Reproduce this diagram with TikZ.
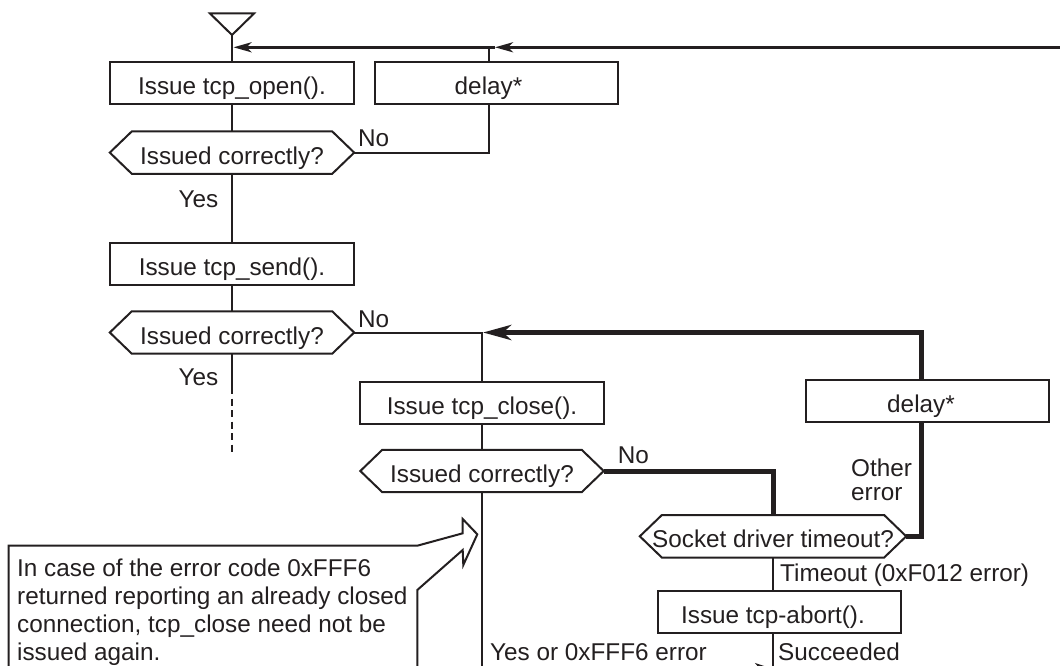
\documentclass[tikz,border=0pt]{standalone}
\usepackage{fontspec}
\setmainfont{Liberation Sans}
\usetikzlibrary{arrows.meta,calc}
\definecolor{ink}{HTML}{231F20}

% text set slightly off the centre of its box (labels follow the flow line, not the box)
\newcommand\shiftedtext[2]{\hspace*{-#1}#2\hspace*{#1}}
% pointed decision outline around a named node
\newcommand\hexoutline[1]{%
  \draw[thin line, line join=miter] (#1.west) -- ([xshift=22pt]#1.north west)
    -- ([xshift=-22pt]#1.north east) -- (#1.east)
    -- ([xshift=-22pt]#1.south east) -- ([xshift=22pt]#1.south west) -- cycle;}

\begin{document}
\begin{tikzpicture}[x=1pt,y=-1pt,
  every node/.style={font=\fontsize{24.3pt}{29pt}\selectfont, text=ink, inner sep=0pt},
  thin line/.style={draw=ink, line width=2pt},
  heavy/.style={draw=ink, line width=5pt, line join=miter},
  topline/.style={draw=ink, line width=3pt},
  stepbox/.style={draw=ink, line width=2pt, minimum width=243.5pt, minimum height=42pt,
                  text height=23pt, text depth=0pt},
  decision/.style={minimum width=#1, minimum height=42pt, text height=23pt, text depth=0pt},
  tag/.style={anchor=base west},
  smalltip/.style={-{Stealth[length=18pt,width=10pt,inset=5pt]}},
  bigtip/.style={-{Stealth[length=28pt,width=15pt,inset=8pt]}},
]
\useasboundingbox (0,0) rectangle (1060,666);

% ---- start marker and re-entry line
\draw[thin line, line join=miter] (210,13.5) -- (254,13.5) -- (232,35) -- cycle;
\coordinate (apex) at (232,35);
\coordinate (entry) at (1062,47.3);
\coordinate (jA) at (232,47.3);
\coordinate (jD) at (488.5,47.3);

% ---- open / send column
\node[stepbox] (open) at (232,83.2) {Issue tcp\_open().};
\node[stepbox] (delayA) at (496.3,83.2) {\shiftedtext{7.8pt}{delay*}};
\node[decision=244pt] (decA) at (232,152.6) {Issued correctly?};
\node[stepbox] (send) at (232,263.5) {Issue tcp\_send().};
\node[decision=244pt] (decB) at (232,332.5) {Issued correctly?};
\hexoutline{decA}
\hexoutline{decB}

% ---- close column
\coordinate (jB) at (481.5,332.5);
\node[stepbox] (close) at (482,402.5) {Issue tcp\_close().};
\node[decision=243pt] (decC) at (482,471) {Issued correctly?};
\hexoutline{decC}
\coordinate (exitB) at (481.5,680);

% ---- error handling
\coordinate (colC) at (773,0);
\coordinate (colD) at (921,332.5);
\node[decision=266pt] (sock) at (773,536.3) {Socket driver timeout?};
\hexoutline{sock}
\node[stepbox] (abort) at (779.5,612.3) {\shiftedtext{6.5pt}{Issue tcp-abort().}};
\node[stepbox] (delayB) at (927.6,400.8) {\shiftedtext{6.6pt}{delay*}};

% ---- connectors, main column
\draw[topline, smalltip] (entry) -- ([xshift=6.5pt]jD);
\draw[topline, smalltip] ([xshift=6.5pt]jD) -- ([xshift=1.5pt]jA);
\draw[thin line] (apex) -- (open.north);
\draw[thin line] (open.south) -- (decA.north);
\draw[thin line] (decA.south) -- (send.north);
\draw[thin line] (send.south) -- (decB.north);
\draw[thin line] (decB.south) -- ++(0,33.4) coordinate (dashstart);
\draw[thin line, dash pattern=on 7pt off 4.5pt] (dashstart) -- ++(0,67.3);

% retry after delay
\draw[thin line] (decA.east) -| (jD |- delayA.south);
\draw[thin line] (jD |- delayA.north) -- (jD);

% send failed: close the connection
\draw[thin line] (decB.east) -- (jB) -- (jB |- close.north);
\draw[thin line] (jB |- close.south) -- (jB |- decC.north);
\draw[thin line] (jB |- decC.south) -- (exitB);

% close failed
\draw[heavy] (decC.east) -| (sock.north);
\draw[heavy] (sock.east) -| (colD |- delayB.south);
\draw[heavy, bigtip] (colD |- delayB.north) |- ([xshift=1.5pt]jB);

% timeout: abort
\draw[thin line] (colC |- sock.south) -- (colC |- abort.north);
\draw[thin line] (colC |- abort.south) -- (colC |- exitB);
\coordinate (yesend) at (481.5,669);
\draw[thin line, -{Stealth[length=18pt,width=12pt,inset=5pt]}] (yesend) -- (yesend -| colC);

% ---- branch labels
\node[tag] (noA) at (358,146.7) {No};
\node[tag] (yesA) at (178.5,207) {Yes};
\node[tag] (noB) at (358,327.3) {No};
\node[tag] (yesB) at (178.5,385) {Yes};
\node[tag] (noC) at (617.6,463.3) {No};
\node[anchor=north west, align=left, font=\fontsize{24.3pt}{24.3pt}\selectfont] (other) at (851,458.3) {Other\\error};
\node[tag] (tmo) at (780,581.7) {Timeout (0xF012 error)};
\node[tag] (succ) at (778,660) {Succeeded};
\node[tag] (yesor) at (490,660) {Yes or 0xFFF6 error};

% ---- callout note
\draw[thin line, line join=miter] (8.5,680) -- (8.5,545.7) -- (417.3,545.7) -- (462.7,533.3)
  -- (462.7,519) -- (477.3,534.3) -- (463.3,565) -- (462.7,550) -- (417.3,590) -- (417.3,680);
\node[anchor=north west, align=left, font=\fontsize{24.3pt}{28pt}\selectfont] (note) at (17,558.3)
  {In case of the error code 0xFFF6\\returned reporting an already closed\\connection, tcp\_close need not be\\issued again.};
\end{tikzpicture}
\end{document}
